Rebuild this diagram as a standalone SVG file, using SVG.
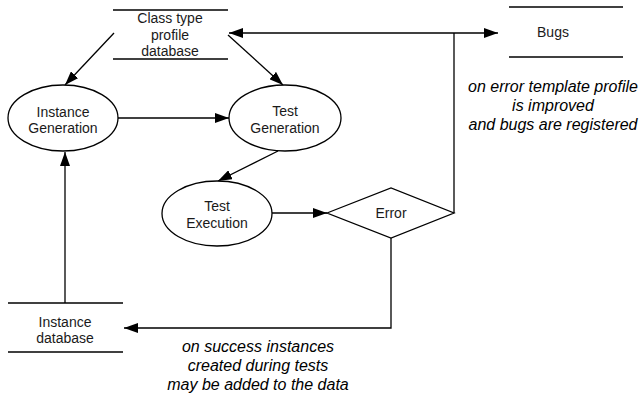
<svg xmlns="http://www.w3.org/2000/svg" width="641" height="396" viewBox="0 0 641 396">
<style>
.l{stroke:#000;stroke-width:1.3;fill:none}
.s{stroke:#000;stroke-width:1.3;fill:#fff}
.t{font-family:"Liberation Sans",Arial,sans-serif;font-size:14px;text-anchor:middle;fill:#1a1a1a}
.i{font-family:"Liberation Sans",Arial,sans-serif;font-size:16px;font-style:italic;text-anchor:middle;fill:#000}
</style>
<defs>
<marker id="a" markerWidth="14" markerHeight="10" refX="14" refY="5" orient="auto" markerUnits="userSpaceOnUse">
<path d="M0,0 L14,5 L0,10 z" fill="#000"/>
</marker>
<marker id="b" markerWidth="14" markerHeight="10" refX="0" refY="5" orient="auto" markerUnits="userSpaceOnUse">
<path d="M14,0 L0,5 L14,10 z" fill="#000"/>
</marker>
</defs>
<g id="connectors">
<line class="l" x1="114" y1="33" x2="65" y2="85" marker-end="url(#a)"/>
<line class="l" x1="228" y1="35" x2="283" y2="85" marker-end="url(#a)"/>
<line class="l" x1="118" y1="118" x2="229" y2="118" marker-end="url(#a)"/>
<line class="l" x1="278" y1="151" x2="218" y2="181" marker-end="url(#a)"/>
<line class="l" x1="272" y1="213" x2="327" y2="213" marker-end="url(#a)"/>
<line class="l" x1="229" y1="33" x2="498" y2="33" marker-start="url(#b)" marker-end="url(#a)"/>
<polyline class="l" points="454,213 454,33"/>
<polyline class="l" points="391,238 391,328 124,328" marker-end="url(#a)"/>
<line class="l" x1="65" y1="303" x2="65" y2="152" marker-end="url(#a)"/>
</g>
<g id="classdb">
<line class="l" x1="113" y1="10" x2="228" y2="10"/>
<line class="l" x1="113" y1="59" x2="228" y2="59"/>
<text class="t" x="170" y="23">Class type</text>
<text class="t" x="170" y="40">profile</text>
<text class="t" x="170" y="56">database</text>
</g>
<g id="bugs">
<line class="l" x1="509" y1="7" x2="623" y2="7"/>
<line class="l" x1="509" y1="57" x2="623" y2="57"/>
<text class="t" x="553" y="37">Bugs</text>
</g>
<g id="instgen">
<ellipse class="s" cx="63" cy="118" rx="55" ry="33"/>
<text class="t" x="63" y="117">Instance</text>
<text class="t" x="63" y="133">Generation</text>
</g>
<g id="testgen">
<ellipse class="s" cx="285" cy="118" rx="56" ry="33"/>
<text class="t" x="285" y="116">Test</text>
<text class="t" x="285" y="133">Generation</text>
</g>
<g id="testexec">
<ellipse class="s" cx="217" cy="213.5" rx="55" ry="32.5"/>
<text class="t" x="217" y="211">Test</text>
<text class="t" x="217" y="228">Execution</text>
</g>
<g id="error">
<polygon class="s" points="327,213 391,188 454,213 391,238"/>
<text class="t" x="391" y="218">Error</text>
</g>
<g id="instdb">
<line class="l" x1="8" y1="303" x2="123" y2="303"/>
<line class="l" x1="8" y1="352" x2="123" y2="352"/>
<text class="t" x="65" y="327">Instance</text>
<text class="t" x="65" y="343">database</text>
</g>
<g id="notes">
<text class="i" x="553" y="92">on error template profile</text>
<text class="i" x="553" y="111">is improved</text>
<text class="i" x="553" y="130">and bugs are registered</text>
<text class="i" x="258" y="352">on success instances</text>
<text class="i" x="258" y="371">created during tests</text>
<text class="i" x="258" y="390">may be added to the data</text>
</g>
</svg>
